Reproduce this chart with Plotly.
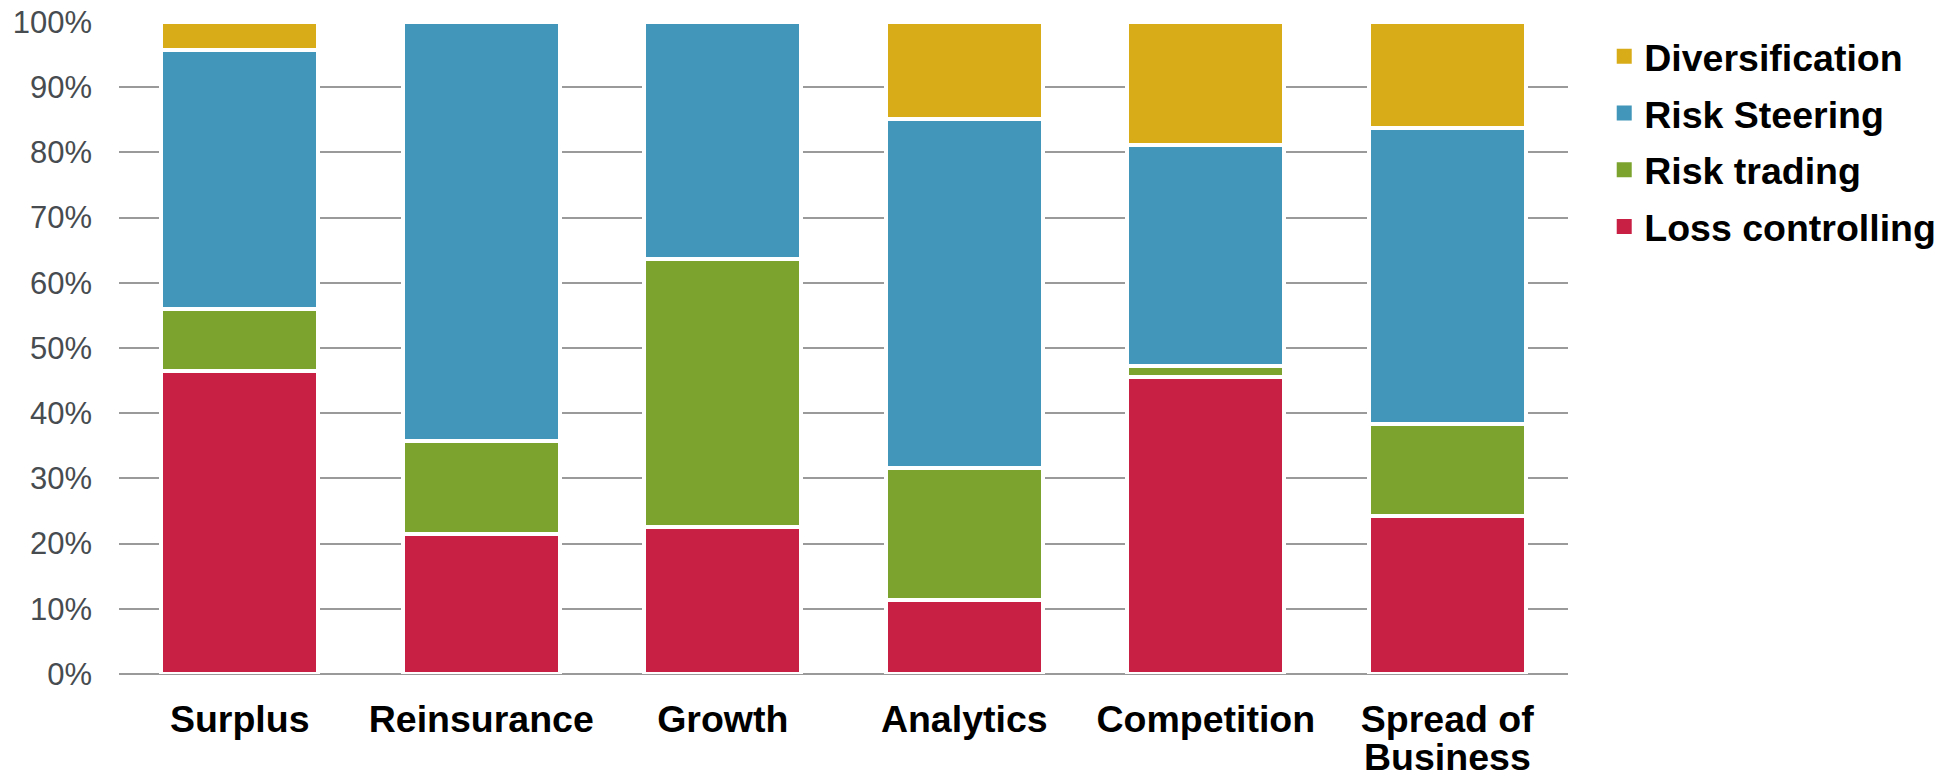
import plotly.graph_objects as go

categories = ["Surplus", "Reinsurance", "Growth", "Analytics", "Competition", "Spread of Business"]
loss_controlling = [46.4, 21.5, 22.6, 11.4, 45.6, 24.2]
risk_trading = [9.6, 14.3, 41.0, 20.2, 1.6, 14.1]
risk_steering = [39.7, 64.2, 36.4, 53.5, 33.9, 45.5]
diversification = [4.3, 0.0, 0.0, 14.9, 18.9, 16.2]

series = [
    ("Loss controlling", loss_controlling, "#C81F45"),
    ("Risk trading", risk_trading, "#7BA32D"),
    ("Risk Steering", risk_steering, "#4196BA"),
    ("Diversification", diversification, "#D8AB18"),
]

FONT = "Arial, 'Liberation Sans', sans-serif"
LABEL_SIZE = 37.5

# first line shown as tick label, second line (if any) as annotation
tick_first = []
second_lines = []
for c in categories:
    if c == "Spread of Business":
        tick_first.append("Spread of")
        second_lines.append((c, "Business"))
    else:
        tick_first.append(c)

fig = go.Figure()
for name, vals, color in series:
    fig.add_trace(go.Bar(
        x=categories, y=vals, name=name,
        marker=dict(color=color, line=dict(color="white", width=4)),
        showlegend=False, cliponaxis=False,
    ))
# legend swatches, top-to-bottom in reverse stacking order
for name, vals, color in reversed(series):
    fig.add_trace(go.Scatter(
        x=[None], y=[None], mode="markers", name=name, legendgroup=name,
        marker=dict(symbol="square", size=15, color=color),
        showlegend=True,
    ))

for cat, txt in second_lines:
    fig.add_annotation(
        x=cat, xref="x", y=-0.127, yref="paper", yanchor="middle",
        text=txt, showarrow=False,
        font=dict(size=LABEL_SIZE, color="black", family=FONT, weight="bold"),
    )

fig.update_layout(
    barmode="stack",
    bargap=0.35,
    width=1949, height=777,
    margin=dict(l=119, r=381, t=22, b=103, autoexpand=False),
    plot_bgcolor="white", paper_bgcolor="white",
    font=dict(family=FONT),
    legend=dict(
        traceorder="grouped",
        x=1.025, xanchor="left", y=0.995, yanchor="top",
        font=dict(size=LABEL_SIZE, color="black", family=FONT, weight="bold"),
        itemwidth=30, tracegroupgap=5,
        bgcolor="rgba(0,0,0,0)",
    ),
    xaxis=dict(
        tickmode="array", tickvals=categories, ticktext=tick_first,
        tickfont=dict(size=LABEL_SIZE, color="black", family=FONT, weight="bold"),
        showgrid=False, showline=False, zeroline=False,
        ticklabelstandoff=19, automargin=False,
    ),
    yaxis=dict(
        range=[0, 100],
        tickvals=[0, 10, 20, 30, 40, 50, 60, 70, 80, 90, 100],
        ticktext=["0%", "10%", "20%", "30%", "40%", "50%", "60%", "70%", "80%", "90%", "100%"],
        tickfont=dict(size=31, color="#474C50", family=FONT),
        showgrid=True, gridcolor="#9A9A9A", gridwidth=2,
        zeroline=True, zerolinecolor="#9A9A9A", zerolinewidth=2,
        showline=False, automargin=False,
        ticklabelstandoff=26,
    ),
)

fig.write_html("out.html")
